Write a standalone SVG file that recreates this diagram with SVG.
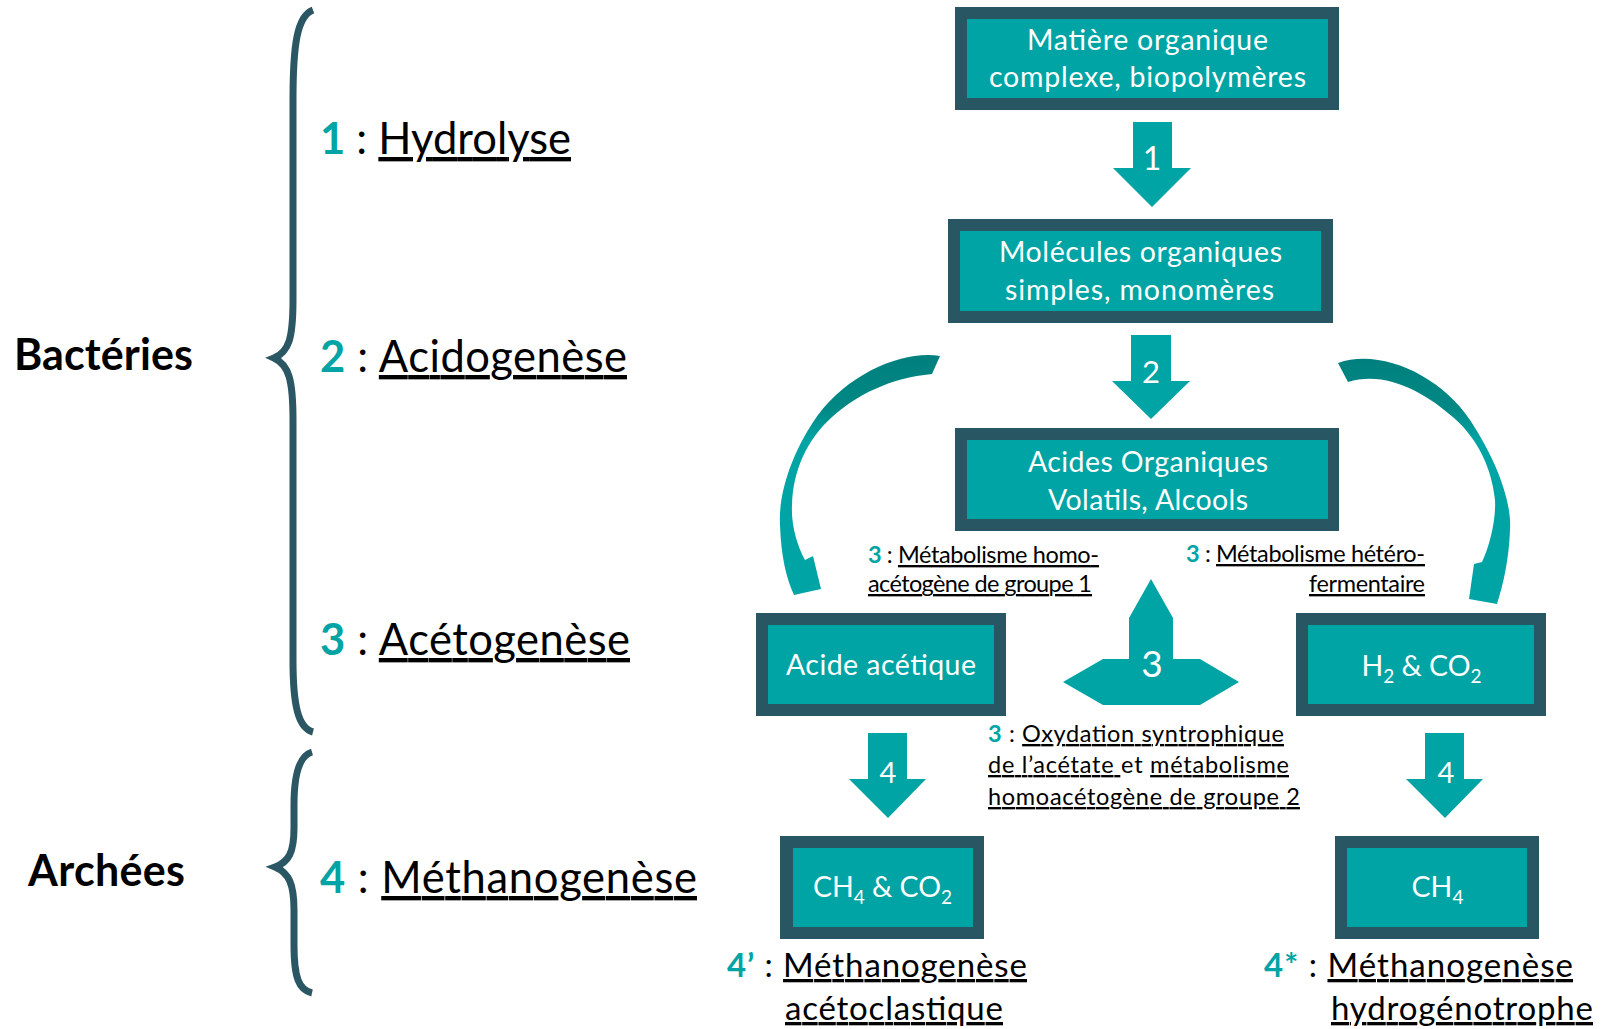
<svg xmlns="http://www.w3.org/2000/svg" width="1614" height="1029" viewBox="0 0 1614 1029">
<defs>
<style>
text{font-family:Lato,"Liberation Sans",sans-serif;}
.outer{fill:#285662;}
.inner{fill:#00A4A5;}
.bt{fill:#ffffff;font-size:28.5px;text-anchor:middle;}
.sub{font-size:19px;}
.num{fill:#00A4A5;font-weight:bold;}
.u{text-decoration:underline;}
.big{font-size:43.5px;fill:#000;}
.mid{font-size:33px;fill:#000;}
.sm{font-size:23.5px;fill:#000;}
.grp{font-size:43px;font-weight:bold;fill:#000;}
.arr{fill:#00A4A5;}
.al{fill:#fff;text-anchor:middle;}
.brace{fill:none;stroke:#2A5763;stroke-width:7;}
</style>
<linearGradient id="curveGrad" gradientUnits="userSpaceOnUse" x1="0" y1="350" x2="0" y2="480">
<stop offset="0" stop-color="#007F7D"/>
<stop offset="0.45" stop-color="#008885"/>
<stop offset="0.7" stop-color="#00A4A5"/>
<stop offset="1" stop-color="#00A4A5"/>
</linearGradient>
</defs>
<rect width="1614" height="1029" fill="#ffffff"/>

<g id="brace-bacteries">
<path class="brace" d="M313,10 C297,16 293,45 293,100 L293,300 C293,338 289,352 274,358 C289,365 293,380 293,420 L293,660 C293,705 298,728 313,732"/>
</g>
<g id="brace-archees">
<path class="brace" d="M312,752 C298,756 294,778 294,805 L294,828 C294,852 289,862 275,867 C289,873 294,884 294,910 L294,945 C294,978 299,990 312,993"/>
</g>

<g id="label-bacteries"><text class="grp" x="14" y="370" textLength="179" lengthAdjust="spacing">Bactéries</text></g>
<g id="label-archees"><text class="grp" x="28" y="886" textLength="157" lengthAdjust="spacing">Archées</text></g>

<g id="step-1"><text class="big" x="320" y="154" textLength="251" lengthAdjust="spacing"><tspan class="num">1</tspan> : <tspan class="u">Hydrolyse</tspan></text></g>
<g id="step-2"><text class="big" x="320" y="372" textLength="307" lengthAdjust="spacing"><tspan class="num">2</tspan> : <tspan class="u">Acidogenèse</tspan></text></g>
<g id="step-3"><text class="big" x="320" y="655" textLength="310" lengthAdjust="spacing"><tspan class="num">3</tspan> : <tspan class="u">Acétogenèse</tspan></text></g>
<g id="step-4"><text class="big" x="320" y="893" textLength="377" lengthAdjust="spacing"><tspan class="num">4</tspan> : <tspan class="u">Méthanogenèse</tspan></text></g>

<g id="box-matiere">
<rect class="outer" x="955" y="7" width="384" height="103"/>
<rect class="inner" x="967" y="19" width="361" height="79"/>
<text class="bt" x="1147.5" y="50" textLength="241" lengthAdjust="spacing">Matière organique</text>
<text class="bt" x="1147.5" y="87" textLength="317" lengthAdjust="spacing">complexe, biopolymères</text>
</g>
<g id="box-molecules">
<rect class="outer" x="948" y="219" width="385" height="104"/>
<rect class="inner" x="960" y="231" width="361" height="80"/>
<text class="bt" x="1140.5" y="262" textLength="283" lengthAdjust="spacing">Molécules organiques</text>
<text class="bt" x="1139.5" y="300" textLength="269" lengthAdjust="spacing">simples, monomères</text>
</g>
<g id="box-acides">
<rect class="outer" x="955" y="428" width="384" height="103"/>
<rect class="inner" x="967" y="440" width="361" height="79"/>
<text class="bt" x="1148" y="472" textLength="240" lengthAdjust="spacing">Acides Organiques</text>
<text class="bt" x="1148" y="510" textLength="200" lengthAdjust="spacing">Volatils, Alcools</text>
</g>
<g id="box-acetique">
<rect class="outer" x="756" y="613" width="250" height="103"/>
<rect class="inner" x="768" y="625" width="226" height="79"/>
<text class="bt" x="881" y="675" textLength="190" lengthAdjust="spacing">Acide acétique</text>
</g>
<g id="box-h2co2">
<rect class="outer" x="1296" y="613" width="250" height="103"/>
<rect class="inner" x="1308" y="625" width="226" height="79"/>
<text class="bt" x="1421.5" y="676">H<tspan class="sub" dy="7">2</tspan><tspan dy="-7"> &amp; CO</tspan><tspan class="sub" dy="7">2</tspan></text>
</g>
<g id="box-ch4co2">
<rect class="outer" x="780" y="836" width="204" height="103"/>
<rect class="inner" x="793" y="848" width="180" height="79"/>
<text class="bt" x="882.5" y="897">CH<tspan class="sub" dy="7">4</tspan><tspan dy="-7"> &amp; CO</tspan><tspan class="sub" dy="7">2</tspan></text>
</g>
<g id="box-ch4">
<rect class="outer" x="1335" y="836" width="204" height="103"/>
<rect class="inner" x="1347" y="848" width="180" height="79"/>
<text class="bt" x="1437.5" y="897">CH<tspan class="sub" dy="7">4</tspan></text>
</g>

<g id="connectors">
<path id="arrow-1" class="arr" d="M1133,122 H1172 V168 H1191 L1152,207 L1113,168 H1133 Z"/>
<text class="al" x="1152" y="170" font-size="32">1</text>
<path id="arrow-2" class="arr" d="M1131,335 H1171 V381 H1190 L1151,419 L1112,381 H1131 Z"/>
<text class="al" x="1151" y="383" font-size="31">2</text>
<path id="arrow-3" class="arr" d="M1151,579 L1173,618 V659 H1200 L1239,682 L1200,705 H1103 L1063,682 L1103,659 H1129 V618 Z"/>
<text class="al" x="1152" y="677" font-size="37">3</text>
<path id="arrow-4a" class="arr" d="M868,733 H907 V779 H926 L888,818 L849,779 H868 Z"/>
<text class="al" x="888" y="783" font-size="29">4</text>
<path id="arrow-4b" class="arr" d="M1425,733 H1464 V779 H1483 L1445,818 L1406,779 H1425 Z"/>
<text class="al" x="1446" y="783" font-size="29">4</text>
<path id="curve-left" fill="url(#curveGrad)" d="M940,356 C905,350 850,372 818,415 C795,447 778,490 780,525 C781,555 786,578 794,595 L821,589 L813,556 L805,560 C797,545 791,525 792,505 C793,470 807,440 831,418 C856,395 890,378 932,374 Z"/>
<path id="curve-right" fill="url(#curveGrad)" d="M1338,363 C1380,348 1440,375 1470,420 C1495,458 1512,500 1510,530 C1509,560 1503,585 1497,604 L1469,599 L1474,564 L1482,562 C1490,545 1496,520 1495,500 C1492,470 1479,440 1454,418 C1425,392 1385,370 1348,382 Z"/>
</g>

<g id="label-homo">
<text class="sm" x="868" y="563" textLength="231" lengthAdjust="spacing"><tspan class="num">3</tspan> : <tspan class="u">Métabolisme homo-</tspan></text>
<text class="sm" x="868" y="592" textLength="224" lengthAdjust="spacing"><tspan class="u">acétogène de groupe 1</tspan></text>
</g>
<g id="label-hetero">
<text class="sm" x="1425" y="562" text-anchor="end" textLength="239" lengthAdjust="spacing"><tspan class="num">3</tspan> : <tspan class="u">Métabolisme hétéro-</tspan></text>
<text class="sm" x="1425" y="592" text-anchor="end" textLength="116" lengthAdjust="spacing"><tspan class="u">fermentaire</tspan></text>
</g>
<g id="label-oxydation">
<text class="sm" x="988" y="742" textLength="296" lengthAdjust="spacing"><tspan class="num">3</tspan> : <tspan class="u">Oxydation syntrophique</tspan></text>
<text class="sm" x="988" y="773" textLength="301" lengthAdjust="spacing"><tspan class="u">de l’acétate </tspan>et <tspan class="u">métabolisme</tspan></text>
<text class="sm" x="988" y="805" textLength="312" lengthAdjust="spacing"><tspan class="u">homoacétogène de groupe 2</tspan></text>
</g>
<g id="label-acetoclastique">
<text class="mid" x="727" y="977" textLength="300" lengthAdjust="spacing"><tspan class="num">4’</tspan> : <tspan class="u">Méthanogenèse</tspan></text>
<text class="mid" x="785" y="1020" textLength="218" lengthAdjust="spacing"><tspan class="u">acétoclastique</tspan></text>
</g>
<g id="label-hydrogenotrophe">
<text class="mid" x="1264" y="977" textLength="309" lengthAdjust="spacing"><tspan class="num">4*</tspan> : <tspan class="u">Méthanogenèse</tspan></text>
<text class="mid" x="1331" y="1020" textLength="262" lengthAdjust="spacing"><tspan class="u">hydrogénotrophe</tspan></text>
</g>
</svg>
